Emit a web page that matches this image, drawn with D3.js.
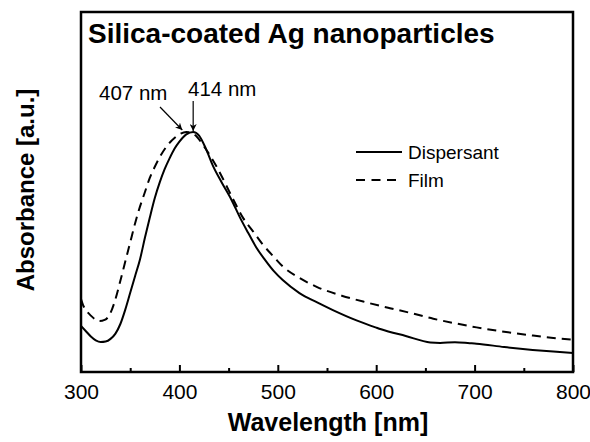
<!DOCTYPE html>
<html><head><meta charset="utf-8">
<script src="https://cdn.jsdelivr.net/npm/d3@7"></script>
<style>body{margin:0;background:#fff}svg{display:block}text{font-family:"Liberation Sans",Arial,sans-serif}</style>
</head><body><div id="chart"></div>
<script>
const title = "Silica-coated Ag nanoparticles";
const xLabel = "Wavelength [nm]";
const yLabel = "Absorbance [a.u.]";
const seriesNames = ["Dispersant", "Film"];
const xTicks = [300, 400, 500, 600, 700, 800];
const xMinorTicks = [350, 450, 550, 650, 750];
const peakLabels = ["407 nm", "414 nm"];
const peakWavelengths = [407, 414];

const dispersantWl = [300,305,310,315,320,325,330,335,340,345,350,355,360,365,370,375,380,385,390,395,400,407,414,420,427,434,443,453,462,470,478,487,496,505,522,540,556,580,600,605,630,655,665,680,695,702,730,759,780,800];
const dispersantAbs = [0.192,0.17,0.148,0.132,0.125,0.127,0.138,0.16,0.2,0.26,0.33,0.40,0.47,0.56,0.645,0.725,0.79,0.845,0.89,0.93,0.96,0.99,1.0,0.985,0.93,0.86,0.79,0.717,0.64,0.579,0.52,0.467,0.42,0.383,0.329,0.29,0.258,0.215,0.185,0.178,0.15,0.123,0.121,0.124,0.12,0.118,0.104,0.092,0.085,0.079];

const filmWl = [300,302,305,310,315,319,324,329,334,340,345,350,355,360,365,370,375,380,387,395,400,407,415,425,438,455,465,475,485,497,505,522,540,565,590,614,635,658,680,702,730,759,780,800];
const filmAbs = [0.304,0.28,0.258,0.235,0.218,0.212,0.217,0.238,0.29,0.38,0.46,0.54,0.62,0.69,0.75,0.81,0.855,0.895,0.94,0.975,0.99,1.0,0.99,0.94,0.854,0.717,0.64,0.585,0.53,0.475,0.44,0.392,0.354,0.318,0.29,0.266,0.246,0.222,0.203,0.186,0.168,0.152,0.142,0.135];

const W = 590, H = 442;
const m = {left: 81, right: 17, top: 12, bottom: 70};
const svg = d3.select("#chart").append("svg").attr("width", W).attr("height", H);
const x = d3.scaleLinear().domain([300, 800]).range([m.left, W - m.right]);
const y = d3.scaleLinear().domain([0, 1.5]).range([H - m.bottom, m.top]);

svg.append("defs").append("marker").attr("id","arr").attr("viewBox","0 0 10 10")
  .attr("refX",10).attr("refY",5).attr("markerWidth",7).attr("markerHeight",7)
  .attr("markerUnits","userSpaceOnUse").attr("orient","auto")
  .append("path").attr("d","M0,0 L10,5 L0,10 L3,5 Z").attr("fill","#000");

const line = d3.line().x(d => x(d[0])).y(d => y(d[1])).curve(d3.curveMonotoneX);
const disp = dispersantWl.map((w,i) => [w, dispersantAbs[i]]);
const film = filmWl.map((w,i) => [w, filmAbs[i]]);

svg.append("path").attr("d", line(disp)).attr("fill","none").attr("stroke","#000").attr("stroke-width",2);
svg.append("path").attr("d", line(film)).attr("fill","none").attr("stroke","#000").attr("stroke-width",2).attr("stroke-dasharray","9,6");

const axB = svg.append("g").attr("transform", `translate(0,${H - m.bottom})`)
  .call(d3.axisBottom(x).tickValues(xTicks).tickSize(-7).tickPadding(12).tickFormat(d3.format("d")));
axB.select(".domain").remove();
axB.selectAll("line").attr("stroke-width",2);
axB.selectAll("text").attr("font-size",21).attr("fill","#000");
const axM = svg.append("g").attr("transform", `translate(0,${H - m.bottom})`)
  .call(d3.axisBottom(x).tickValues(xMinorTicks).tickSize(-4).tickFormat(""));
axM.select(".domain").remove();
axM.selectAll("line").attr("stroke-width",2);

svg.append("rect").attr("x", m.left).attr("y", m.top)
  .attr("width", W - m.left - m.right).attr("height", H - m.top - m.bottom)
  .attr("fill","none").attr("stroke","#000").attr("stroke-width",2.5);

svg.append("text").attr("x", 88).attr("y", 43).attr("font-size",28).attr("font-weight","bold").text(title);

svg.append("text").attr("x", 328).attr("y", 431).attr("text-anchor","middle")
  .attr("font-size",25).attr("font-weight","bold").text(xLabel);
svg.append("text").attr("transform", `translate(34,190) rotate(-90)`)
  .attr("text-anchor","middle").attr("font-size",24).attr("font-weight","bold").text(yLabel);

svg.append("text").attr("x", 99).attr("y", 100).attr("font-size",20.5).text(peakLabels[0]);
svg.append("text").attr("x", 188).attr("y", 96).attr("font-size",20.5).text(peakLabels[1]);
svg.append("line").attr("x1",160).attr("y1",107).attr("x2", x(peakWavelengths[0]) - 4).attr("y2", y(1.0) - 2)
  .attr("stroke","#000").attr("stroke-width",1.2).attr("marker-end","url(#arr)");
svg.append("line").attr("x1", x(peakWavelengths[1])).attr("y1",101).attr("x2", x(peakWavelengths[1])).attr("y2", y(1.0) - 1)
  .attr("stroke","#000").attr("stroke-width",1.2).attr("marker-end","url(#arr)");

const lg = svg.append("g");
lg.append("line").attr("x1",356).attr("x2",402).attr("y1",152).attr("y2",152).attr("stroke","#000").attr("stroke-width",2);
lg.append("text").attr("x",408).attr("y",159).attr("font-size",19).text(seriesNames[0]);
lg.append("line").attr("x1",356).attr("x2",400).attr("y1",180).attr("y2",180).attr("stroke","#000").attr("stroke-width",2).attr("stroke-dasharray","9,6.5");
lg.append("text").attr("x",408).attr("y",187).attr("font-size",19).text(seriesNames[1]);
</script></body></html>
